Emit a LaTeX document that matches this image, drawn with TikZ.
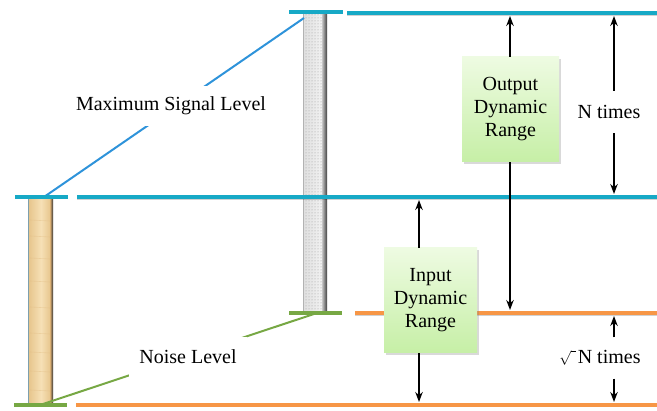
\documentclass[tikz,border=0pt]{standalone}
\usepackage{fontspec}
\setmainfont{Liberation Serif}
\usetikzlibrary{arrows.meta,shadows,patterns}
\definecolor{cyanL}{HTML}{17A9C6}
\definecolor{orangeL}{HTML}{F79646}
\definecolor{greenL}{HTML}{77A844}
\definecolor{blueL}{HTML}{2E93DA}
\definecolor{woodA}{HTML}{E6C48A}
\definecolor{woodB}{HTML}{F6E0B6}
\definecolor{boxTop}{HTML}{EEFBE2}
\definecolor{boxBot}{HTML}{C6EFA6}
\begin{document}
\begin{tikzpicture}[x=1pt,y=-1pt,
  lvl/.style={line width=3.4pt},
  lvlshadow/.style={line width=2pt, black, opacity=0.18},
  capline/.style={line width=4.2pt},
  leader/.style={line width=2pt},
  arr/.style={-{Stealth[length=10pt,width=7.5pt]}, line width=1.5pt},
  rangebox/.style={top color=boxTop, bottom color=boxBot, draw=none,
     drop shadow={opacity=0.3, shadow xshift=2pt, shadow yshift=-2pt},
     align=center, inner sep=0pt},
  lbl/.style={fill=white, inner xsep=3pt, minimum height=40pt},
  every node/.style={font=\fontsize{20}{23}\selectfont}
]
\path[use as bounding box] (0,0) rectangle (657,411);

% ---------- bars ----------
% wood bar (left)
\fill[left color=woodA, right color=woodB] (28,199) rectangle (41,403);
\fill[left color=woodB, right color=woodA] (41,199) rectangle (51,403);
\foreach \yy in {220,236,258,281,307,333,352,371,390}
  \draw[woodA!80!brown, opacity=0.35, line width=0.6pt] (30,\yy) -- (50,\yy+1);
\fill[left color=woodA!70!brown, right color=black!80] (50,199) rectangle (53,403);
\draw[line width=1.2pt, color=cyan!30!gray] (28.5,199) -- (28.5,403);

% gray dotted bar (middle)
\fill[left color=gray!25, right color=gray!10] (303,14) rectangle (322,312);
\fill[pattern=dots, pattern color=gray!80] (303,14) rectangle (322,312);
\fill[left color=gray!45, right color=black!75] (322,14) rectangle (327,312);
\draw[line width=1pt, gray!60] (303.5,14) -- (303.5,312);

% ---------- horizontal levels ----------
\coordinate (topL) at (347,13);   \coordinate (topR) at (657,13);
\coordinate (midL) at (77,197);   \coordinate (midR) at (657,197);
\coordinate (loL) at (355,313);   \coordinate (loR) at (657,313);
\coordinate (botL) at (76,405);   \coordinate (botR) at (657,405);

\draw[lvlshadow] ([yshift=-2pt]topL) -- ([yshift=-2pt]topR);
\draw[lvlshadow] ([yshift=-2pt]midL) -- ([yshift=-2pt]midR);
\draw[lvlshadow] ([yshift=-2pt]loL) -- ([yshift=-2pt]loR);
\draw[lvl, cyanL] (topL) -- (topR);
\draw[lvl, cyanL] (midL) -- (midR);
\draw[lvl, orangeL] (loL) -- (loR);
\draw[lvl, orangeL] (botL) -- (botR);

% ---------- leader lines ----------
\coordinate (maxA) at (44,197);
\coordinate (maxB) at (304,18);
\coordinate (noiA) at (43,404);
\coordinate (noiB) at (317,313);
\draw[leader, blueL] (maxA) -- (maxB);
\draw[leader, greenL] (noiA) -- (noiB);

% ---------- caps ----------
\draw[capline, cyanL] (15,197) -- (68,197);
\draw[capline, cyanL] (289,12) -- (343,12);
\draw[capline, greenL] (14,405) -- (67,405);
\draw[capline, greenL] (289,313) -- (342,313);

% ---------- labels ----------
\node[lbl] (maxl) at (171,106) {Maximum Signal Level};
\node[lbl, inner xsep=10pt] (noisel) at (188,357) {Noise Level};

% ---------- range boxes ----------
\node[rangebox, minimum width=97pt, minimum height=105pt] (outbox) at (510.5,109.5)
  {Output\\Dynamic\\Range};
\node[rangebox, minimum width=93pt, minimum height=105pt] (inbox) at (430.5,300.5)
  {Input\\Dynamic\\Range};

\coordinate (outUp) at (510,16);
\coordinate (outDn) at (510,310);
\draw[arr] (outbox.north -| outUp) -- (outUp);
\draw[arr] (outbox.south -| outDn) -- (outDn);

\coordinate (inUp) at (419,200);
\coordinate (inDn) at (419,402);
\draw[arr] (inbox.north -| inUp) -- (inUp);
\draw[arr] (inbox.south -| inDn) -- (inDn);

% ---------- N times ----------
\node[inner sep=0pt, minimum height=42pt] (ntimes) at (609,112) {N times};
\coordinate (ntUp) at (614,16);
\coordinate (ntDn) at (614,194);
\draw[arr] (ntimes.north -| ntUp) -- (ntUp);
\draw[arr] (ntimes.south -| ntDn) -- (ntDn);

\node[inner sep=0pt, minimum height=41pt] (sqtimes) at (600,358)
  {{\fontsize{15}{15}\selectfont$\sqrt{\vphantom{N}\hphantom{i}}$}\kern1.5pt N times};
\coordinate (sqUp) at (614,316);
\coordinate (sqDn) at (614,402);
\draw[arr] (sqtimes.north -| sqUp) -- (sqUp);
\draw[arr] (sqtimes.south -| sqDn) -- (sqDn);
\end{tikzpicture}
\end{document}
